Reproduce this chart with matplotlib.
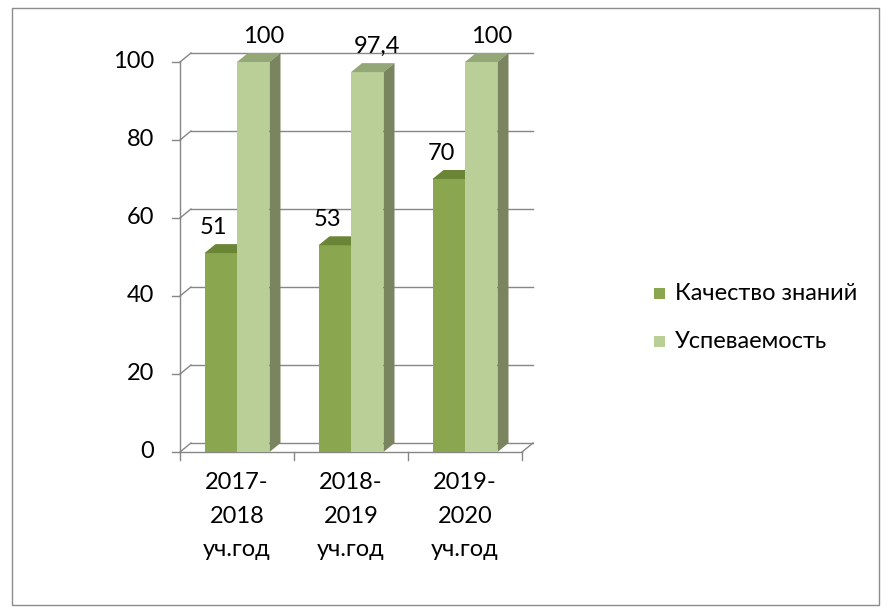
import matplotlib
matplotlib.use("Agg")
import matplotlib.pyplot as plt
from matplotlib.patches import Polygon, Rectangle
import numpy as np

plt.rcParams['font.family'] = ['Lato', 'DejaVu Sans']

# data
years = ['2017-\n2018\nуч.год', '2018-\n2019\nуч.год', '2019-\n2020\nуч.год']
quality = [51, 53, 70]
progress = [100, 97.4, 100]
quality_labels = ['51', '53', '70']
progress_labels = ['100', '97,4', '100']
series_names = ['Качество знаний', 'Успеваемость']

# colours: front, top, side
dark = ('#8aa64e', '#6b8537', '#6b8537')
light = ('#bacf98', '#93a777', '#7a845e')
fs = 17

fig = plt.figure(figsize=(8.91, 6.16), dpi=100)
fig.patches.append(Rectangle((12 / 891, 11 / 616), 867 / 891, 597 / 616,
                             transform=fig.transFigure, fill=False,
                             edgecolor='#8c8c8c', lw=1))

ax = fig.add_axes([180 / 891, 1 - 452 / 616, 342 / 891, 390 / 616])
ax.set_xlim(-0.5, 2.5)
ax.set_ylim(0, 100)
ax.axis('off')

# depth offsets (in data units)
ddx = 11 / 342 * 3
ddy = 9 / 390 * 100
px = 3 / 342  # one pixel in x data units
py = 100 / 390  # one pixel in y data units

grid_c = '#868686'
# back gridlines and left wall diagonals
for v in range(0, 101, 20):
    ax.plot([-0.5 + ddx, 2.5 + ddx], [v + ddy, v + ddy], color=grid_c, lw=1, clip_on=False)
    ax.plot([-0.5, -0.5 + ddx], [v, v + ddy], color=grid_c, lw=1, clip_on=False)
    ax.plot([-0.5 - 8 * px, -0.5], [v, v], color=grid_c, lw=1, clip_on=False)
    ax.text(-0.5 - 26 * px, v, str(v), ha='right', va='center', fontsize=fs)
# floor
ax.plot([-0.5, 2.5], [0, 0], color=grid_c, lw=1, clip_on=False)
ax.plot([2.5, 2.5 + ddx], [0, ddy], color=grid_c, lw=1, clip_on=False)
ax.plot([-0.5, -0.5], [0, 100], color=grid_c, lw=1, clip_on=False)
for t in np.arange(-0.5, 2.6, 1):
    ax.plot([t, t], [0, -8 * py], color=grid_c, lw=1, clip_on=False)

w = 0.285
x = np.arange(len(years))


def bar3d(xl, h, cols):
    front, top, side = cols
    ax.add_patch(Rectangle((xl, 0), w, h, facecolor=front, edgecolor='none', zorder=3))
    ax.add_patch(Polygon([(xl, h), (xl + ddx, h + ddy), (xl + w + ddx, h + ddy), (xl + w, h)],
                         facecolor=top, edgecolor='none', zorder=3, clip_on=False))
    ax.add_patch(Polygon([(xl + w, 0), (xl + w, h), (xl + w + ddx, h + ddy), (xl + w + ddx, ddy)],
                         facecolor=side, edgecolor='none', zorder=3, clip_on=False))


for i in range(len(years)):
    bar3d(x[i] - w, quality[i], dark)
    bar3d(x[i], progress[i], light)
    ax.text(x[i] - w / 2 - 7 * px, quality[i] + ddy + 1.5, quality_labels[i],
            ha='center', va='bottom', fontsize=fs, zorder=5)
    ax.text(x[i] + w / 2 + 10 * px, progress[i] + ddy + 1.5, progress_labels[i],
            ha='center', va='bottom', fontsize=fs, zorder=5, clip_on=False)
    ax.text(x[i], -20 * py, years[i], ha='center', va='top', fontsize=fs, linespacing=1.75)

# legend
for j, (name, col) in enumerate(zip(series_names, [dark[0], light[0]])):
    ly = 1 - (293 + j * 48) / 616
    fig.patches.append(Rectangle((654 / 891, ly - 5.5 / 616), 11 / 891, 11 / 616,
                                 transform=fig.transFigure, facecolor=col, edgecolor='none'))
    fig.text(675 / 891, ly, name, ha='left', va='center', fontsize=fs)

fig.savefig('out.png', dpi=100)
